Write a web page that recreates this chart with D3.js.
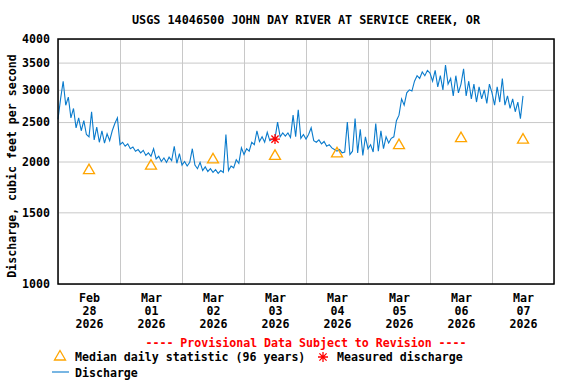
<!DOCTYPE html>
<html>
<head>
<meta charset="utf-8">
<script src="https://cdn.jsdelivr.net/npm/d3@7"></script>
<style>
body { margin: 0; background: #fff; }
text { font-family: "DejaVu Sans Mono", monospace; font-weight: bold; font-size: 11.6px; }
</style>
</head>
<body>
<div id="chart"></div>
<script>
// hourly discharge (cfs), one list per day, starting 00:00 each day
var q_feb28 = [2540, 2850, 3150, 2750, 2880, 2560, 2700, 2420, 2560, 2380, 2520, 2330, 2300, 2650, 2260, 2430, 2230, 2380, 2220, 2340, 2250, 2380, 2480, 2560];
var q_mar01 = [2200, 2230, 2180, 2210, 2150, 2170, 2120, 2140, 2100, 2130, 2070, 2100, 2060, 2150, 2030, 2060, 2000, 2040, 1990, 2050, 2010, 2180, 1980, 2090];
var q_mar02 = [1960, 2000, 1950, 1990, 2150, 1960, 1920, 1990, 1900, 1940, 1890, 1920, 1880, 1910, 1870, 1900, 1880, 2330, 1900, 1950, 1930, 2020, 1980, 2160];
var q_mar03 = [2080, 2150, 2120, 2230, 2200, 2380, 2240, 2300, 2230, 2360, 2250, 2270, 2280, 2500, 2300, 2350, 2310, 2350, 2290, 2600, 2300, 2680, 2280, 2330];
var q_mar04 = [2270, 2330, 2420, 2250, 2230, 2260, 2210, 2240, 2180, 2200, 2160, 2140, 2120, 2140, 2100, 2110, 2500, 2080, 2120, 2550, 2100, 2400, 2070, 2300];
var q_mar05 = [2150, 2200, 2110, 2480, 2120, 2380, 2150, 2300, 2220, 2280, 2300, 2520, 2600, 2850, 2750, 2950, 3000, 2980, 3150, 3250, 3200, 3320, 3250, 3350];
var q_mar06 = [3300, 3150, 3350, 3050, 3250, 3000, 3450, 3100, 3200, 2900, 3250, 2950, 3100, 3380, 2900, 3150, 2850, 3100, 2800, 3050, 2850, 3000, 2780, 3100];
var q_mar07 = [2950, 2750, 3050, 2800, 3200, 2750, 2900, 2700, 2850, 2650, 2800, 2550, 2900];

// median daily statistic (96 years), at noon of each day
var median_values = [1910, 1960, 2030, 2070, 2100, 2200, 2290, 2270];

// measured discharge
var measured_hour = 84;   // hours after Feb 28 00:00
var measured_value = 2270;

var y_ticks = [1000, 1500, 2000, 2500, 3000, 3500, 4000];
var day_labels = [["Feb", "28", "2026"], ["Mar", "01", "2026"], ["Mar", "02", "2026"], ["Mar", "03", "2026"],
                  ["Mar", "04", "2026"], ["Mar", "05", "2026"], ["Mar", "06", "2026"], ["Mar", "07", "2026"]];

var margin = { top: 39, bottom: 100, left: 58, right: 22 };
var width = 576 - margin.left - margin.right;
var height = 384 - margin.top - margin.bottom;

var svg = d3.select("#chart").append("svg")
    .attr("width", 576)
    .attr("height", 384);

var g = svg.append("g")
    .attr("transform", "translate(" + margin.left + " " + margin.top + ")");

var start = new Date(2026, 1, 28);
var days = d3.range(9).map(function(i) { return d3.timeDay.offset(start, i); });
var noons = days.slice(0, 8).map(function(d) { return d3.timeHour.offset(d, 12); });

var x = d3.scaleTime()
    .domain([days[0], days[8]])
    .range([0, width]);

var y = d3.scaleLog()
    .domain([1000, 4000])
    .range([height, 0]);

// gridlines
g.append("g")
    .attr("class", "grid")
    .call(d3.axisLeft(y).tickValues(y_ticks).tickSize(-width).tickFormat(""))
    .call(function(a) { a.select(".domain").remove(); })
    .selectAll("line").attr("stroke", "#c8c8c8");
g.append("g")
    .attr("class", "grid")
    .attr("transform", "translate(0 " + height + ")")
    .call(d3.axisBottom(x).tickValues(days).tickSize(-height).tickFormat(""))
    .call(function(a) { a.select(".domain").remove(); })
    .selectAll("line").attr("stroke", "#c8c8c8");

// y axis labels
var yAxis = g.append("g")
    .call(d3.axisLeft(y).tickValues(y_ticks).tickSize(0).tickPadding(8).tickFormat(d3.format("d")));
yAxis.select(".domain").remove();
yAxis.selectAll("text")
    .attr("fill", "#000")
    .style("font-size", "11.6px")
    .style("font-family", "'DejaVu Sans Mono', monospace")
    .style("font-weight", "bold");

// x axis labels, three lines each
var xAxis = g.append("g")
    .attr("transform", "translate(0 " + height + ")")
    .call(d3.axisBottom(x).tickValues(noons).tickSize(0).tickFormat(""));
xAxis.select(".domain").remove();
xAxis.selectAll(".tick").each(function(d, i) {
    var t = d3.select(this).append("text")
        .attr("fill", "#000")
        .attr("text-anchor", "middle");
    day_labels[i].forEach(function(s, k) {
        t.append("tspan").attr("x", 0).attr("y", 18 + k * 13).text(s);
    });
});

// discharge line
var discharge = [].concat(q_feb28, q_mar01, q_mar02, q_mar03, q_mar04, q_mar05, q_mar06, q_mar07);
var line = d3.line()
    .x(function(d, i) { return x(d3.timeHour.offset(start, i)); })
    .y(function(d) { return y(d); });
g.append("path")
    .datum(discharge)
    .attr("fill", "none")
    .attr("stroke", "#0a7bcc")
    .attr("stroke-width", 1.1)
    .attr("d", line);

// median triangles
var tri = "M0,-5.5L5.5,4L-5.5,4Z";
g.selectAll(".median")
    .data(median_values).enter()
    .append("path")
        .attr("class", "median")
        .attr("d", tri)
        .attr("transform", function(d, i) { return "translate(" + x(noons[i]) + " " + y(d) + ")"; })
        .attr("fill", "none")
        .attr("stroke", "#ffa500")
        .attr("stroke-width", 1.3);

// measured discharge asterisk
var star = "M-5,0L5,0M0,-5L0,5M-3.6,-3.6L3.6,3.6M-3.6,3.6L3.6,-3.6";
g.append("path")
    .attr("d", star)
    .attr("transform", "translate(" + x(d3.timeHour.offset(start, measured_hour)) + " " + y(measured_value) + ")")
    .attr("fill", "none")
    .attr("stroke", "#ff0000")
    .attr("stroke-width", 1.3);

// plot border
g.append("rect")
    .attr("width", width)
    .attr("height", height)
    .attr("fill", "none")
    .attr("stroke", "#000")
    .attr("stroke-width", 1.5);

// title
svg.append("text")
    .attr("x", 306)
    .attr("y", 24)
    .attr("text-anchor", "middle")
    .style("font-size", "11.8px")
    .text("USGS 14046500 JOHN DAY RIVER AT SERVICE CREEK, OR");

// y label
svg.append("text")
    .attr("transform", "translate(15.5 166) rotate(-90)")
    .attr("text-anchor", "middle")
    .text("Discharge, cubic feet per second");

// provisional note
svg.append("text")
    .attr("x", 306)
    .attr("y", 347)
    .attr("text-anchor", "middle")
    .attr("fill", "#ff0000")
    .text("---- Provisional Data Subject to Revision ----");

// legend
svg.append("path")
    .attr("d", tri)
    .attr("transform", "translate(60 356)")
    .attr("fill", "none")
    .attr("stroke", "#ffa500")
    .attr("stroke-width", 1.3);
svg.append("text").attr("x", 75).attr("y", 361).text("Median daily statistic (96 years)");
svg.append("path")
    .attr("d", star)
    .attr("transform", "translate(323 357)")
    .attr("fill", "none")
    .attr("stroke", "#ff0000")
    .attr("stroke-width", 1.3);
svg.append("text").attr("x", 337).attr("y", 361).text("Measured discharge");
svg.append("line")
    .attr("x1", 52).attr("x2", 69)
    .attr("y1", 372).attr("y2", 372)
    .attr("stroke", "#0a7bcc")
    .attr("stroke-width", 1.1);
svg.append("text").attr("x", 75).attr("y", 377).text("Discharge");
</script>
</body>
</html>
